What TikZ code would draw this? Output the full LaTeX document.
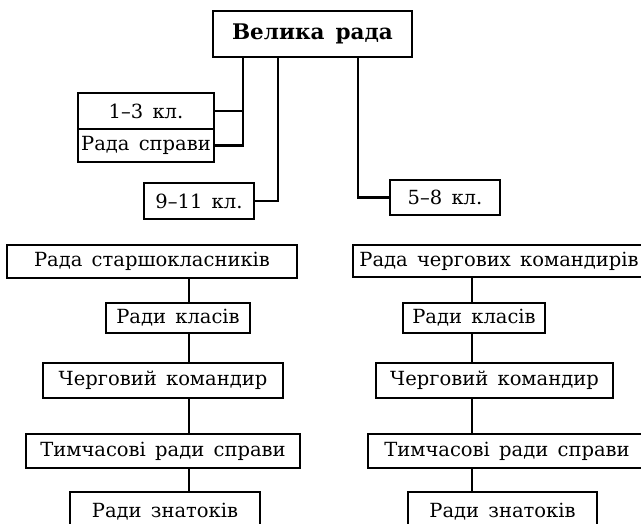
\documentclass[tikz,border=0pt]{standalone}
\usepackage{fontspec}
\setmainfont[WordSpace=1.5]{DejaVu Serif}
\begin{document}
\begin{tikzpicture}[x=1pt,y=-1pt,
  bx/.style={draw,line width=2.6pt,inner sep=0pt,font=\fontsize{19.5}{22}\selectfont},
  ln/.style={line width=2.6pt}]
\useasboundingbox (0,0) rectangle (641,523);
\node[bx,minimum width=199pt,minimum height=46pt,font=\fontsize{21.5}{24}\selectfont\bfseries] (vr) at (312.5,34) {Велика рада};
\node[bx,minimum width=136pt,minimum height=36pt] (k13) at (146,111) {1–3 кл.};
\node[bx,minimum width=136pt,minimum height=33pt] (rs) at (146,145.5) {Рада справи};
\node[bx,minimum width=110pt,minimum height=36pt] (k911) at (199,201) {9–11 кл.};
\node[bx,minimum width=110pt,minimum height=35pt] (k58) at (445,197.5) {5–8 кл.};
% left column
\node[bx,minimum width=290pt,minimum height=33pt] (l1) at (152,261.5) {Рада старшокласників};
\node[bx,minimum width=144pt,minimum height=30pt] (l2) at (178,318) {Ради класів};
\node[bx,minimum width=240pt,minimum height=35pt] (l3) at (163,380.5) {Черговий командир};
\node[bx,minimum width=274pt,minimum height=34pt] (l4) at (163,451) {Тимчасові ради справи};
\node[bx,minimum width=190pt,minimum height=40pt] (l5) at (165,512) {Ради знатоків};
% right column
\node[bx,minimum width=292pt,minimum height=32pt] (r1) at (499,261) {Рада чергових командирів};
\node[bx,minimum width=142pt,minimum height=30pt] (r2) at (474,318) {Ради класів};
\node[bx,minimum width=237pt,minimum height=35pt] (r3) at (494.5,380.5) {Черговий командир};
\node[bx,minimum width=278pt,minimum height=34pt] (r4) at (507,451) {Тимчасові ради справи};
\node[bx,minimum width=189pt,minimum height=40pt] (r5) at (502.5,512) {Ради знатоків};
% columns
\coordinate (ca) at (243,0);
\coordinate (cb) at (278,0);
\coordinate (cc) at (358,0);
\coordinate (cl) at (189,0);
\coordinate (cr) at (472,0);
% top connectors
\draw[ln] (vr.south -| ca) |- (rs.east);
\draw[ln] (k13.east) -- (k13.east -| ca);
\draw[ln] (vr.south -| cb) |- (k911.east);
\draw[ln] (vr.south -| cc) |- (k58.west);
% column connectors
\draw[ln] (l1.south -| cl) -- (l2.north -| cl);
\draw[ln] (l2.south -| cl) -- (l3.north -| cl);
\draw[ln] (l3.south -| cl) -- (l4.north -| cl);
\draw[ln] (l4.south -| cl) -- (l5.north -| cl);
\draw[ln] (r1.south -| cr) -- (r2.north -| cr);
\draw[ln] (r2.south -| cr) -- (r3.north -| cr);
\draw[ln] (r3.south -| cr) -- (r4.north -| cr);
\draw[ln] (r4.south -| cr) -- (r5.north -| cr);
\end{tikzpicture}
\end{document}
